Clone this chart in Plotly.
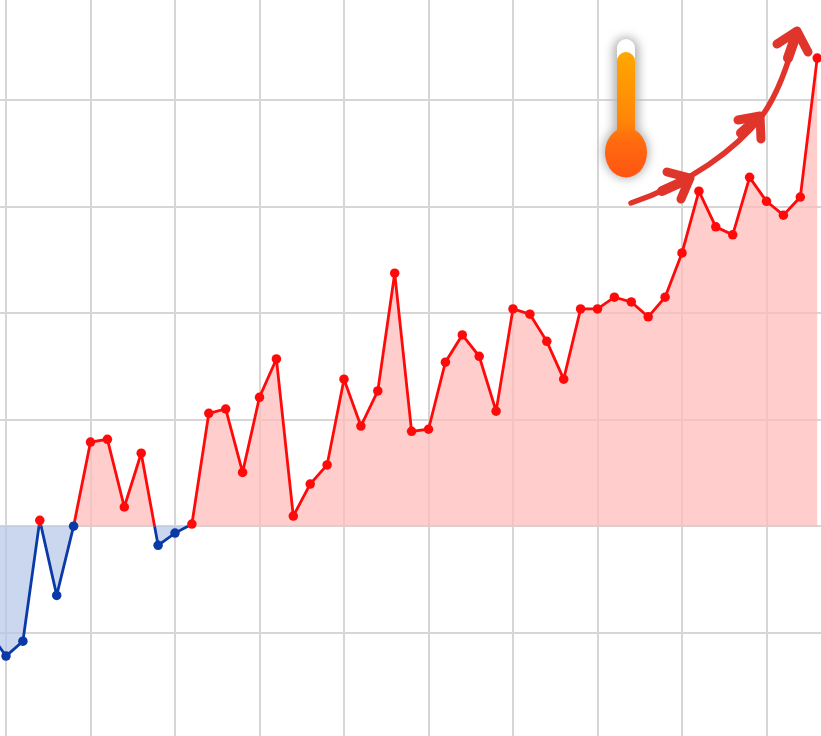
import base64
import numpy as np
import plotly.graph_objects as go

years = list(range(1969, 2019))
anomaly = [-0.199, -0.244, -0.216, 0.011, -0.130, 0.000, 0.158, 0.163, 0.036, 0.137,
           -0.036, -0.013, 0.004, 0.212, 0.220, 0.101, 0.242, 0.314, 0.019, 0.079,
           0.115, 0.276, 0.188, 0.254, 0.475, 0.178, 0.182, 0.308, 0.359, 0.319,
           0.216, 0.408, 0.398, 0.347, 0.276, 0.408, 0.408, 0.430, 0.421, 0.393,
           0.430, 0.513, 0.629, 0.562, 0.547, 0.655, 0.610, 0.584, 0.618, 0.879]

RED = "#ff0a0a"
BLUE = "#0a3aa8"
GRID = "#d6d6d6"

# Insert the zero crossings so that each segment changes colour on the baseline
xs, ys = [years[0]], [anomaly[0]]
for i in range(1, len(years)):
    a, b = anomaly[i - 1], anomaly[i]
    if a * b < 0:
        xs.append(years[i - 1] + (years[i] - years[i - 1]) * a / (a - b))
        ys.append(0.0)
    xs.append(years[i])
    ys.append(b)
xs, ys = np.array(xs), np.array(ys)

pos_line = [v if v >= 0 else None for v in ys]
neg_line = [v if v <= 0 else None for v in ys]

fig = go.Figure()
fig.add_trace(go.Scatter(x=xs, y=np.minimum(ys, 0), mode="lines", fill="tozeroy",
                         fillcolor="rgba(180,198,232,0.7)", line=dict(width=0), hoverinfo="skip"))
fig.add_trace(go.Scatter(x=xs, y=np.maximum(ys, 0), mode="lines", fill="tozeroy",
                         fillcolor="rgba(255,186,183,0.72)", line=dict(width=0), hoverinfo="skip"))
fig.add_trace(go.Scatter(x=xs, y=neg_line, mode="lines", line=dict(color=BLUE, width=2.8)))
fig.add_trace(go.Scatter(x=xs, y=pos_line, mode="lines", line=dict(color=RED, width=2.8)))
fig.add_trace(go.Scatter(
    x=years, y=anomaly, mode="markers",
    marker=dict(size=9.5, color=[RED if v > 0 else BLUE for v in anomaly]),
))

svg = """<svg xmlns="http://www.w3.org/2000/svg" width="821" height="736" viewBox="0 0 821 736">
<defs>
<linearGradient id="g" x1="0" y1="0" x2="0" y2="1"><stop offset="0" stop-color="#ffa800"/>
<stop offset="0.55" stop-color="#ff8508"/><stop offset="0.72" stop-color="#ff6a10"/><stop offset="1" stop-color="#ff5412"/></linearGradient>
<filter id="b" filterUnits="userSpaceOnUse" x="580" y="10" width="90" height="200"><feGaussianBlur stdDeviation="5"/></filter>
</defs>
<g filter="url(#b)" fill="#b4b4b4">
<rect x="613" y="37" width="26" height="112" rx="13"/><ellipse cx="626" cy="152" rx="23" ry="27"/></g>
<rect x="617" y="39" width="18" height="60" rx="9" fill="#ffffff"/>
<path d="M617 61 a9 9 0 0 1 18 0 V130 A21 25 0 1 1 617 130 Z" fill="url(#g)"/>
<g fill="none" stroke="#e0352b" stroke-width="5.5" stroke-linecap="round" stroke-linejoin="round">
<path d="M631 203 C690 183 735 150 762 116 C775 98 787 70 797 31"/>
<path stroke-width="9" d="M667 172 L690 178 L681 199"/>
<path stroke-width="9" d="M738 120 L760 116 L761 139"/>
<path stroke-width="9" d="M777 44 L797 31 L808 52"/>
<path stroke-width="10" d="M662 191 L684 181"/>
<path stroke-width="10" d="M741 133 L756 120"/>
<path stroke-width="10" d="M788 58 L795 38"/>
</g></svg>"""
uri = "data:image/svg+xml;base64," + base64.b64encode(svg.encode()).decode()

fig.update_layout(
    width=821, height=736, margin=dict(l=0, r=0, t=0, b=0),
    paper_bgcolor="white", plot_bgcolor="white", showlegend=False,
    images=[dict(source=uri, xref="paper", yref="paper", x=0, y=1, sizex=1, sizey=1,
                 xanchor="left", yanchor="top", sizing="stretch", layer="above")],
)
fig.update_xaxes(range=[1969.645, 2018.225], tick0=1970, dtick=5, showticklabels=False, ticks="",
                 showgrid=True, gridcolor=GRID, gridwidth=2, zeroline=False,
                 showline=True, linecolor="#dedede", linewidth=2)
fig.update_yaxes(range=[-0.394, 0.988], tick0=0, dtick=0.2, showticklabels=False, ticks="",
                 showgrid=True, gridcolor=GRID, gridwidth=2, zeroline=False,
                 showline=True, linecolor="#e8e8e8", linewidth=2)
fig.write_html("out.html", config=dict(displayModeBar=False),
               post_script="document.body.style.margin='0';")
